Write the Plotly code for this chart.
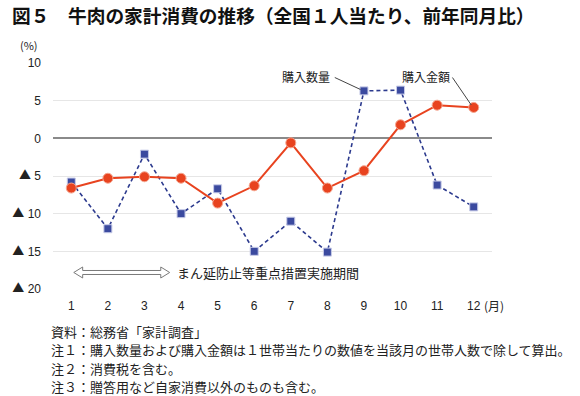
import plotly.graph_objects as go

months = list(range(1, 13))
month_labels = [str(m) for m in months]
amount = [-6.6, -5.3, -5.1, -5.3, -8.6, -6.3, -0.6, -6.6, -4.3, 1.8, 4.4, 4.1]      # 購入金額
quantity = [-5.8, -12.0, -2.1, -10.0, -6.7, -15.0, -11.0, -15.1, 6.3, 6.4, -6.2, -9.1]  # 購入数量
y_ticks = [10, 5, 0, -5, -10, -15, -20]
TRI = "<span style='font-family:Noto Sans CJK JP'>▲</span>"
y_ticktext = ["10", "5", "0", TRI + " 5", TRI + " 10", TRI + " 15", TRI + " 20"]

W, H = 580, 396
L, R, T, B = 48, 492, 63, 289

def px(x):
    return (x - L) / (R - L)

def py(y):
    return (B - y) / (B - T)

CJK = "Noto Sans CJK JP"
NUM = "Liberation Sans, Arial, Noto Sans CJK JP"
RED = "#e8431f"
BLUE = "#3b4a9f"
BLUE_LINE = "#2c3a8e"

fig = go.Figure()
fig.add_trace(go.Scatter(
    x=months, y=quantity, mode="lines+markers", name="購入数量",
    line=dict(color=BLUE_LINE, width=1.6, dash="4px,3px"),
    marker=dict(symbol="square", size=8, color=BLUE, line=dict(color="#c8cce8", width=1)),
))
fig.add_trace(go.Scatter(
    x=months, y=amount, mode="lines+markers", name="購入金額",
    line=dict(color=RED, width=2),
    marker=dict(symbol="circle", size=10, color=RED, line=dict(color="#f5a58f", width=1)),
))

shapes = []
# hollow double arrow (pixel positions -> paper)
c = 272.5
pts = [(69, c), (78, c - 5.5), (78, c - 2), (157, c - 2), (157, c - 5.5), (166, c),
       (157, c + 5.5), (157, c + 2), (78, c + 2), (78, c + 5.5)]
path = "M " + " L ".join(f"{px(x):.5f},{py(y):.5f}" for x, y in pts) + " Z"
shapes.append(dict(type="path", xref="paper", yref="paper", path=path,
                   line=dict(color="#7a7a7a", width=1), fillcolor="white", layer="above"))
# leader lines
shapes.append(dict(type="line", xref="paper", yref="paper",
                   x0=px(333), y0=py(77.5), x1=px(359), y1=py(89.5),
                   line=dict(color="#444444", width=1)))
shapes.append(dict(type="line", xref="paper", yref="paper",
                   x0=px(452), y0=py(77.5), x1=px(471), y1=py(105),
                   line=dict(color="#444444", width=1)))
fig.update_layout(shapes=shapes)

ann = []
ann.append(dict(text="図５　牛肉の家計消費の推移（全国１人当たり、前年同月比）",
                xref="paper", yref="paper", x=px(5), y=py(15), xanchor="left", yanchor="middle",
                showarrow=False, font=dict(family=CJK, size=18.7, color="#111111", weight="bold")))
ann.append(dict(text="(%)", xref="paper", yref="paper", x=px(13), y=py(45),
                xanchor="left", yanchor="middle", showarrow=False,
                font=dict(family=CJK, size=11, color="#222222")))
ann.append(dict(text="(月)", xref="paper", yref="paper", x=px(482), y=py(305),
                xanchor="left", yanchor="middle", showarrow=False,
                font=dict(family=CJK, size=12, color="#222222")))
ann.append(dict(text="購入数量", xref="paper", yref="paper", x=px(304), y=py(76),
                xanchor="center", yanchor="middle", showarrow=False,
                font=dict(family=CJK, size=12, color="#222222")))
ann.append(dict(text="購入金額", xref="paper", yref="paper", x=px(425), y=py(76),
                xanchor="center", yanchor="middle", showarrow=False,
                font=dict(family=CJK, size=12, color="#222222")))
ann.append(dict(text="まん延防止等重点措置実施期間", xref="paper", yref="paper", x=px(171), y=py(272),
                xanchor="left", yanchor="middle", showarrow=False,
                font=dict(family=CJK, size=13, color="#222222")))
notes = ["資料：総務省「家計調査」",
         "注１：購入数量および購入金額は１世帯当たりの数値を当該月の世帯人数で除して算出。",
         "注２：消費税を含む。",
         "注３：贈答用など自家消費以外のものも含む。"]
for i, t in enumerate(notes):
    ann.append(dict(text=t, xref="paper", yref="paper", x=px(44), y=py(331.5 + i * 18.4),
                    xanchor="left", yanchor="middle", showarrow=False,
                    font=dict(family=CJK, size=13, color="#222222")))
fig.update_layout(annotations=ann)

fig.update_layout(
    width=W, height=H,
    margin=dict(l=L, r=W - R, t=T, b=H - B, pad=0),
    paper_bgcolor="white", plot_bgcolor="white",
    showlegend=False,
    xaxis=dict(range=[0.5, 12.5], tickvals=months, ticktext=month_labels,
               showgrid=False, zeroline=False, showline=False, ticks="",
               ticklabelstandoff=8,
               tickfont=dict(family=NUM, size=12, color="#222222")),
    yaxis=dict(range=[-20, 10], tickvals=y_ticks, ticktext=y_ticktext,
               showgrid=True, gridcolor="#e6e6e6", gridwidth=1,
               zeroline=True, zerolinecolor="#8a8a8a", zerolinewidth=1.5,
               showline=False, ticks="", ticklabelstandoff=11,
               tickfont=dict(family=NUM, size=12, color="#222222")),
)

fig.write_html("out.html", config={"displayModeBar": False},
               post_script="document.body.style.margin='0';document.body.style.overflow='hidden';")
